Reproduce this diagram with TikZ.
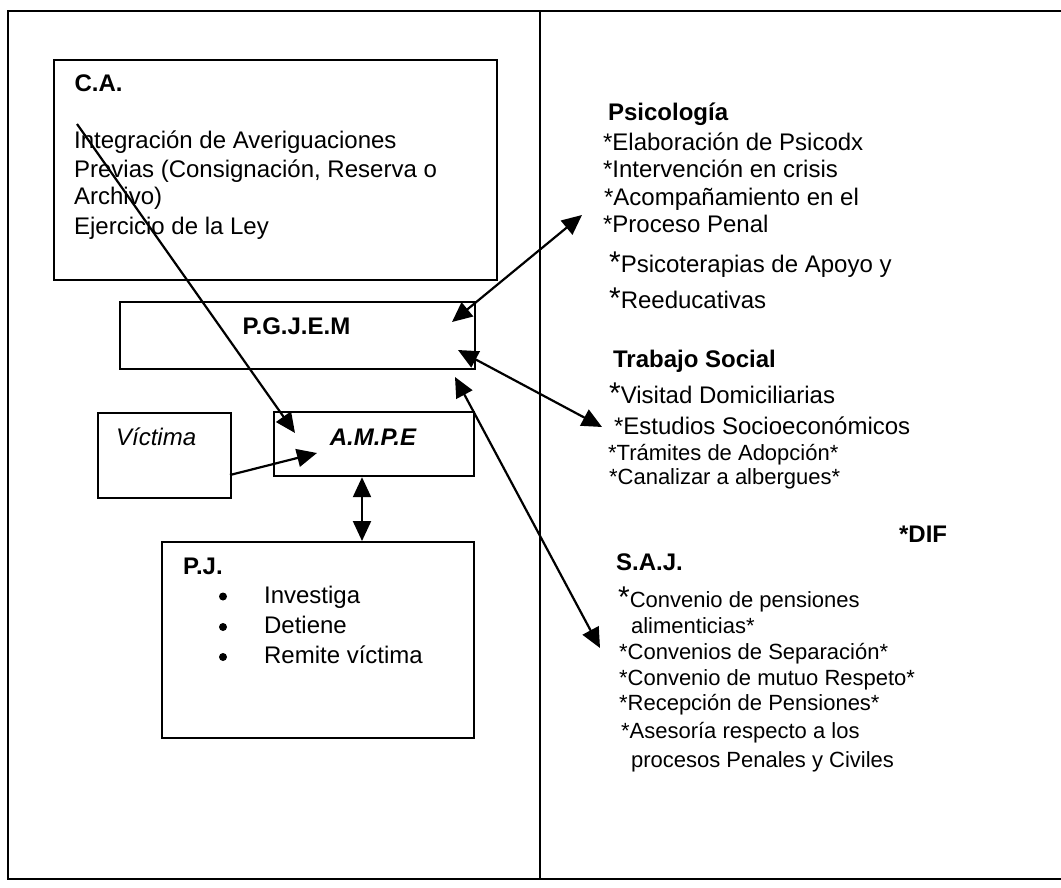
\documentclass[tikz,border=0pt]{standalone}
\usepackage{fontspec}
\setmainfont{Liberation Sans}
\usetikzlibrary{arrows.meta,calc}
\newcommand{\upast}{{\fontsize{30bp}{30bp}\selectfont *}}

\begin{document}
\begin{tikzpicture}[x=1bp, y=-1bp, line width=2.2bp,
      box/.style={draw, rectangle, inner sep=0pt, anchor=north west},
      txt/.style={anchor=base west, inner sep=0pt, font=\fontsize{24bp}{28bp}\selectfont},
      sm/.style={txt, font=\fontsize{22bp}{26bp}\selectfont},
      dot/.style={circle, fill=black, inner sep=0pt, minimum size=8bp},
      link/.style={-{Triangle[length=20bp,width=18bp]}},
      twoway/.style={{Triangle[length=20bp,width=18bp]}-{Triangle[length=20bp,width=18bp]}}]
    \useasboundingbox (0,0) rectangle (1061,888);
    \draw (1070,11) -- (8,11) -- (8,879) -- (1070,879);
    \draw (540,11) -- (540,879);

    \node[box, minimum width=443bp, minimum height=220bp] (CA) at (53,59) {};
    \node[box, minimum width=355bp, minimum height=67bp] (PGJEM) at (119,301) {};
    \node[box, minimum width=133bp, minimum height=85bp] (VIC) at (97,412) {};
    \node[box, minimum width=200bp, minimum height=64bp] (AMPE) at (273,411) {};
    \node[box, minimum width=312bp, minimum height=196bp] (PJ) at (161,541) {};

    \node[txt] (CAtitle) at (73.5,91) {\bfseries C.A.};
    \node[txt] (CA1) at (73,148) {Integración de Averiguaciones};
    \node[txt] (CA2) at (73,177) {Previas (Consignación, Reserva o};
    \node[txt] (CA3) at (73,204) {Archivo)};
    \node[txt] (CA4) at (73,234) {Ejercicio de la Ley};

    \node[txt, anchor=base] (PGJEMlbl) at (296.5,334) {\bfseries P.G.J.E.M};
    \node[txt, anchor=base] (AMPElbl) at (373,445) {\bfseries\itshape A.M.P.E};
    \node[txt] (VIClbl) at (115,445) {\itshape Víctima};

    \node[txt] (PJtitle) at (182,574) {\bfseries P.J.};
    \node[dot] (PJb1) at (223,596.5) {};
    \node[dot] (PJb2) at (223,627) {};
    \node[dot] (PJb3) at (223,657) {};
    \node[txt] (PJ1) at (263,603) {Investiga};
    \node[txt] (PJ2) at (263,633) {Detiene};
    \node[txt] (PJ3) at (263,663) {Remite víctima};

    \node[txt] (PSI) at (607,120) {\bfseries Psicología};
    \node[txt] (PSI1) at (602,150) {*Elaboración de Psicodx};
    \node[txt] (PSI2) at (602,177) {*Intervención en crisis};
    \node[txt] (PSI3) at (603,205) {*Acompañamiento en el};
    \node[txt] (PSI4) at (602,232) {*Proceso Penal};
    \node[txt] (PSI5) at (608,272) {\upast Psicoterapias de Apoyo y};
    \node[txt] (PSI6) at (608,308) {\upast Reeducativas};

    \node[txt] (TS) at (612,367) {\bfseries Trabajo Social};
    \node[txt] (TS1) at (608,403) {\upast Visitad Domiciliarias};
    \node[txt] (TS2) at (613,434) {*Estudios Socioeconómicos};
    \node[sm] (TS3) at (607,460) {*Trámites de Adopción*};
    \node[sm] (TS4) at (608,484) {*Canalizar a albergues*};

    \node[txt] (DIF) at (898,542) {\bfseries *DIF};
    \node[txt] (SAJ) at (615,570) {\bfseries S.A.J.};
    \node[sm] (SAJ1) at (617,607) {\upast Convenio de pensiones};
    \node[sm] (SAJ2) at (630,633) {alimenticias*};
    \node[sm] (SAJ3) at (618,659) {*Convenios de Separación*};
    \node[sm] (SAJ4) at (618,685) {*Convenio de mutuo Respeto*};
    \node[sm] (SAJ5) at (618,710) {*Recepción de Pensiones*};
    \node[sm] (SAJ6) at (620,738) {*Asesoría respecto a los};
    \node[sm] (SAJ7) at (630,767) {procesos Penales y Civiles};

    \coordinate (caOut) at (77,124);
    \coordinate (ampeInA) at (295,433);
    \coordinate (vicOut) at (230,475);
    \coordinate (ampeInB) at (317,453);
    \coordinate (pgjA) at (452,322);
    \coordinate (pgjB) at (458,350);
    \coordinate (pgjC) at (455,377);
    \coordinate (psiIn) at (582,215);
    \coordinate (tsIn) at (602,427);
    \coordinate (sajIn) at (600,648);
    \coordinate (pjLink) at (362,0);

    \draw[link] (caOut) -- (ampeInA);
    \draw[link] (vicOut) -- (ampeInB);
    \draw[twoway] (AMPE.south -| pjLink) -- (PJ.north -| pjLink);
    \draw[twoway] (psiIn) -- (pgjA);
    \draw[twoway] (pgjB) -- (tsIn);
    \draw[twoway] (pgjC) -- (sajIn);
\end{tikzpicture}
\end{document}
